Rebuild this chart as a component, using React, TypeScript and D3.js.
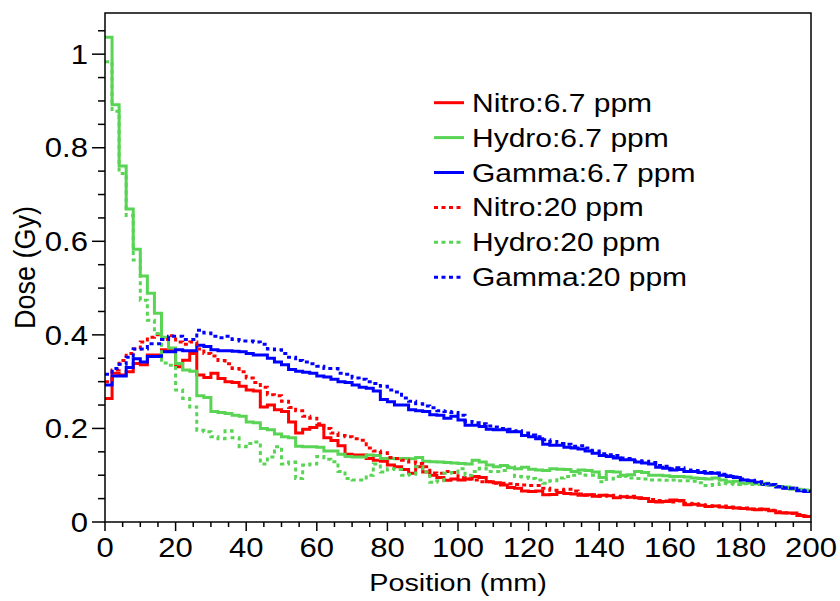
import React from "react";
import * as d3 from "d3";

// 100 bins of 2 mm, 0..200 mm
const binWidth = 2;

const nitro67 = [
  0.264, 0.318, 0.314, 0.321, 0.339, 0.336, 0.357, 0.357, 0.368, 0.368, 0.332, 0.346, 0.36, 0.314, 0.309, 0.318, 0.307,
  0.3, 0.298, 0.29, 0.282, 0.28, 0.246, 0.25, 0.24, 0.236, 0.214, 0.19, 0.198, 0.202, 0.207, 0.18, 0.174,
  0.163, 0.145, 0.143, 0.143, 0.136, 0.132, 0.13, 0.122, 0.118, 0.112, 0.104, 0.118, 0.107, 0.1, 0.095, 0.089, 0.092,
  0.09, 0.092, 0.097, 0.095, 0.086, 0.084, 0.079, 0.074, 0.072, 0.066, 0.065, 0.066, 0.058, 0.059, 0.063, 0.061, 0.06,
  0.057, 0.058, 0.055, 0.057, 0.056, 0.052, 0.054, 0.053, 0.052, 0.05, 0.044, 0.043, 0.044, 0.047, 0.046, 0.037, 0.038,
  0.036, 0.033, 0.034, 0.032, 0.031, 0.03, 0.029, 0.028, 0.026, 0.027, 0.024, 0.02, 0.019, 0.019, 0.014, 0.012,
];
const hydro67 = [
  1.036, 0.892, 0.761, 0.669, 0.583, 0.526, 0.489, 0.446, 0.395, 0.372, 0.339, 0.325, 0.322, 0.27, 0.266, 0.236, 0.234,
  0.232, 0.228, 0.226, 0.214, 0.212, 0.2, 0.197, 0.188, 0.182, 0.18, 0.162, 0.161, 0.161, 0.16, 0.152, 0.152,
  0.145, 0.14, 0.139, 0.139, 0.143, 0.142, 0.136, 0.136, 0.135, 0.136, 0.135, 0.138, 0.13, 0.129, 0.128, 0.127, 0.126,
  0.125, 0.124, 0.132, 0.128, 0.122, 0.118, 0.121, 0.116, 0.114, 0.117, 0.113, 0.111, 0.11, 0.114, 0.113, 0.112, 0.108,
  0.111, 0.11, 0.107, 0.095, 0.108, 0.107, 0.1, 0.101, 0.108, 0.106, 0.1, 0.1, 0.099, 0.097, 0.097, 0.096, 0.094,
  0.093, 0.092, 0.094, 0.09, 0.086, 0.087, 0.083, 0.084, 0.082, 0.083, 0.08, 0.076, 0.075, 0.07, 0.069, 0.068,
];
const gamma67 = [
  0.293, 0.312, 0.312, 0.33, 0.349, 0.342, 0.354, 0.354, 0.364, 0.364, 0.368, 0.366, 0.366, 0.378, 0.375, 0.368, 0.366,
  0.366, 0.365, 0.364, 0.36, 0.357, 0.357, 0.35, 0.342, 0.336, 0.326, 0.322, 0.32, 0.318, 0.312, 0.31, 0.305,
  0.3, 0.298, 0.293, 0.288, 0.286, 0.28, 0.262, 0.257, 0.25, 0.25, 0.24, 0.238, 0.236, 0.229, 0.228, 0.222, 0.226,
  0.218, 0.207, 0.207, 0.204, 0.198, 0.197, 0.197, 0.193, 0.193, 0.185, 0.182, 0.178, 0.166, 0.164, 0.164, 0.16, 0.158,
  0.156, 0.152, 0.147, 0.142, 0.14, 0.137, 0.133, 0.133, 0.128, 0.126, 0.124, 0.117, 0.115, 0.111, 0.112, 0.108, 0.108,
  0.106, 0.104, 0.104, 0.1, 0.097, 0.095, 0.09, 0.088, 0.085, 0.08, 0.079, 0.075, 0.072, 0.072, 0.067, 0.065,
];
const nitro20 = [
  0.3, 0.325, 0.345, 0.36, 0.37, 0.385, 0.395, 0.4, 0.39, 0.398, 0.385, 0.38, 0.385, 0.37, 0.36, 0.355, 0.345,
  0.338, 0.328, 0.321, 0.308, 0.298, 0.288, 0.272, 0.27, 0.258, 0.245, 0.238, 0.226, 0.222, 0.21, 0.2, 0.19,
  0.185, 0.182, 0.178, 0.175, 0.158, 0.152, 0.148, 0.138, 0.136, 0.132, 0.128, 0.125, 0.118, 0.105, 0.104, 0.108, 0.106,
  0.095, 0.092, 0.09, 0.086, 0.086, 0.083, 0.083, 0.082, 0.08, 0.079, 0.078, 0.078, 0.072, 0.068, 0.068, 0.07, 0.066,
  0.06, 0.057, 0.058, 0.055, 0.057, 0.055, 0.053, 0.055, 0.051, 0.05, 0.048, 0.046, 0.045, 0.043, 0.045, 0.04, 0.039,
  0.037, 0.035, 0.033, 0.034, 0.032, 0.03, 0.03, 0.027, 0.028, 0.026, 0.025, 0.022, 0.02, 0.018, 0.016, 0.013,
];
const hydro20 = [
  0.984, 0.878, 0.745, 0.655, 0.56, 0.474, 0.431, 0.403, 0.34, 0.335, 0.282, 0.264, 0.246, 0.196, 0.193, 0.182, 0.178,
  0.195, 0.18, 0.161, 0.168, 0.171, 0.124, 0.139, 0.161, 0.124, 0.128, 0.093, 0.122, 0.124, 0.14, 0.134, 0.129,
  0.108, 0.093, 0.09, 0.09, 0.1, 0.124, 0.107, 0.114, 0.112, 0.1, 0.102, 0.118, 0.107, 0.085, 0.088, 0.104, 0.106,
  0.114, 0.1, 0.108, 0.115, 0.108, 0.108, 0.11, 0.118, 0.097, 0.096, 0.093, 0.09, 0.083, 0.088, 0.094, 0.097, 0.1,
  0.104, 0.1, 0.1, 0.086, 0.092, 0.097, 0.098, 0.094, 0.093, 0.092, 0.09, 0.09, 0.089, 0.09, 0.088, 0.088, 0.087,
  0.084, 0.078, 0.08, 0.083, 0.082, 0.08, 0.082, 0.08, 0.08, 0.079, 0.078, 0.076, 0.074, 0.072, 0.07, 0.068,
];
const gamma20 = [
  0.316, 0.328, 0.337, 0.352, 0.37, 0.37, 0.381, 0.381, 0.39, 0.397, 0.397, 0.39, 0.39, 0.41, 0.404, 0.397, 0.394,
  0.397, 0.39, 0.387, 0.387, 0.385, 0.38, 0.37, 0.368, 0.36, 0.352, 0.345, 0.342, 0.338, 0.333, 0.328, 0.328,
  0.318, 0.316, 0.308, 0.305, 0.3, 0.296, 0.29, 0.282, 0.278, 0.265, 0.258, 0.253, 0.248, 0.244, 0.238, 0.236, 0.234,
  0.228, 0.215, 0.212, 0.21, 0.205, 0.203, 0.2, 0.198, 0.195, 0.19, 0.186, 0.182, 0.176, 0.172, 0.168, 0.166, 0.162,
  0.163, 0.158, 0.152, 0.146, 0.144, 0.142, 0.137, 0.136, 0.131, 0.13, 0.127, 0.121, 0.119, 0.114, 0.116, 0.111, 0.11,
  0.108, 0.106, 0.105, 0.102, 0.099, 0.096, 0.092, 0.089, 0.086, 0.082, 0.08, 0.076, 0.073, 0.072, 0.068, 0.066,
];

const series = [
  { name: "Nitro:6.7 ppm", values: nitro67, color: "#ff0000", dashed: false },
  { name: "Hydro:6.7 ppm", values: hydro67, color: "#59d454", dashed: false },
  { name: "Gamma:6.7 ppm", values: gamma67, color: "#0000ff", dashed: false },
  { name: "Nitro:20 ppm", values: nitro20, color: "#ff0000", dashed: true },
  { name: "Hydro:20 ppm", values: hydro20, color: "#59d454", dashed: true },
  { name: "Gamma:20 ppm", values: gamma20, color: "#0000ff", dashed: true },
];

const xTicks = [0, 20, 40, 60, 80, 100, 120, 140, 160, 180, 200];
const yTicks = [0, 0.2, 0.4, 0.6, 0.8, 1];
const yTickLabels = ["0", "0.2", "0.4", "0.6", "0.8", "1"];

const font = "'Liberation Sans', Arial, Helvetica, sans-serif";

function Txt({ x, y, size, sx, anchor = "start", rotate = 0, children }) {
  return (
    <text
      transform={`translate(${x},${y}) scale(${sx},1)${rotate ? ` rotate(${rotate})` : ""}`}
      fontSize={size}
      fontFamily={font}
      textAnchor={anchor}
      fill="#000"
    >
      {children}
    </text>
  );
}

export default function App() {
  const width = 840;
  const height = 601;
  const frame = { left: 105, top: 13, right: 811, bottom: 522 };

  const x = d3.scaleLinear().domain([0, 200]).range([frame.left, frame.right]);
  const y = d3.scaleLinear().domain([0, 1.088]).range([frame.bottom, frame.top]);

  // histogram outline as steps
  const stepPath = (vals) => {
    const pts = [];
    vals.forEach((v, i) => {
      pts.push([i * binWidth, v]);
      pts.push([(i + 1) * binWidth, v]);
    });
    return d3
      .line()
      .x((d) => x(d[0]))
      .y((d) => y(d[1]))(pts);
  };

  const xMinor = d3.range(0, 201, 5);
  const yMinor = d3.range(0, 1.06, 0.05);

  const legendX = 434;
  const legendY = 102.7;
  const legendStep = 34.9;

  return (
    <svg
      width={width}
      height={height}
      style={{ position: "absolute", left: 0, top: 0, background: "#fff" }}
    >
      <defs>
        <clipPath id="frameClip">
          <rect
            x={frame.left}
            y={frame.top}
            width={frame.right - frame.left}
            height={frame.bottom - frame.top}
          />
        </clipPath>
      </defs>
      <rect width={width} height={height} fill="#fff" />

      <g clipPath="url(#frameClip)">
        {series.map((s) => (
          <path
            key={s.name}
            d={stepPath(s.values)}
            fill="none"
            stroke={s.color}
            strokeWidth={3}
            strokeDasharray={s.dashed ? "4,3.5" : undefined}
          />
        ))}
      </g>

      {/* frame */}
      <rect
        x={frame.left}
        y={frame.top}
        width={frame.right - frame.left}
        height={frame.bottom - frame.top}
        fill="none"
        stroke="#000"
        strokeWidth={1.5}
      />

      {/* x ticks */}
      {xMinor.map((t) => (
        <line
          key={"xm" + t}
          x1={x(t)}
          x2={x(t)}
          y1={frame.bottom}
          y2={frame.bottom + (t % 20 === 0 ? 9 : 5)}
          stroke="#000"
          strokeWidth={1.5}
        />
      ))}
      {xTicks.map((t) => (
        <Txt key={"xl" + t} x={x(t)} y={557} size={27} sx={1.15} anchor="middle">
          {t}
        </Txt>
      ))}

      {/* y ticks */}
      {yMinor.map((t, i) => (
        <line
          key={"ym" + i}
          x1={frame.left - (i % 4 === 0 ? 13 : 7)}
          x2={frame.left}
          y1={y(t)}
          y2={y(t)}
          stroke="#000"
          strokeWidth={1.5}
        />
      ))}
      {yTicks.map((t, i) => (
        <Txt key={"yl" + t} x={88} y={y(t) + 9.7} size={27} sx={1.15} anchor="end">
          {yTickLabels[i]}
        </Txt>
      ))}

      {/* axis titles */}
      <Txt x={(frame.left + frame.right) / 2} y={591} size={24} sx={1.2} anchor="middle">
        Position (mm)
      </Txt>
      <Txt x={35} y={(frame.top + frame.bottom) / 2} size={27} sx={1.12} anchor="middle" rotate={-90}>
        Dose (Gy)
      </Txt>

      {/* legend */}
      {series.map((s, i) => {
        const ly = legendY + i * legendStep;
        return (
          <g key={"lg" + s.name}>
            <line
              x1={legendX}
              x2={legendX + 30}
              y1={ly}
              y2={ly}
              stroke={s.color}
              strokeWidth={3}
              strokeDasharray={s.dashed ? "4,3.5" : undefined}
            />
            <Txt x={legendX + 38} y={ly + 9} size={25} sx={1.2}>
              {s.name}
            </Txt>
          </g>
        );
      })}
    </svg>
  );
}
